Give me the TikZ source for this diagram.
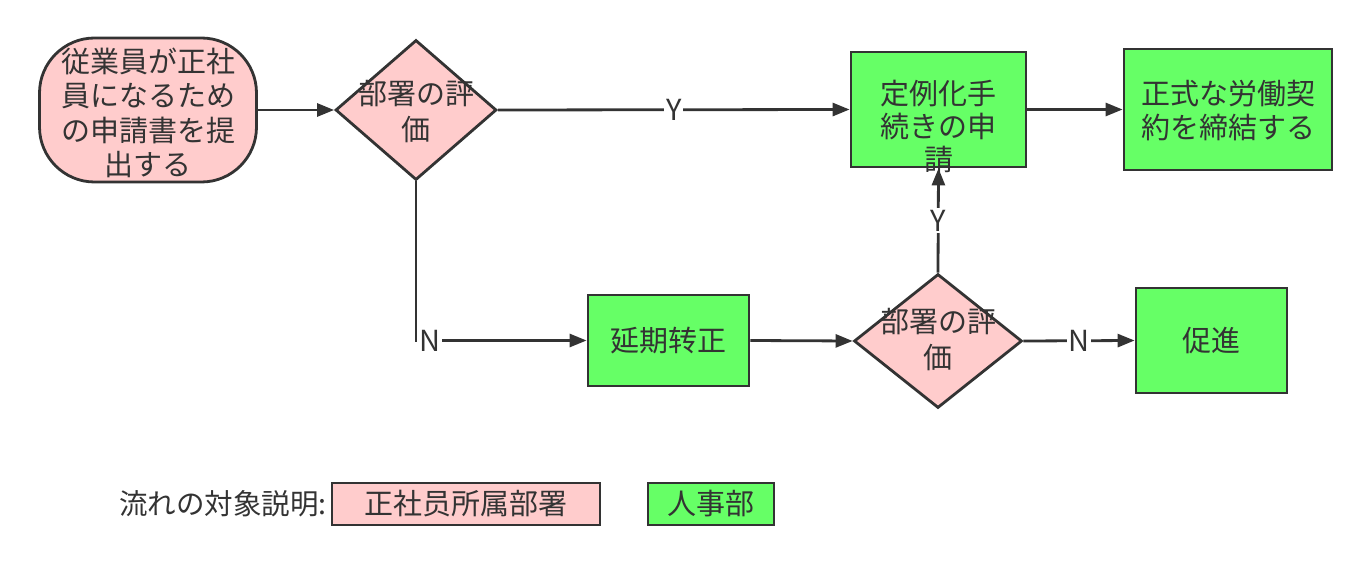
\documentclass[tikz,border=0pt]{standalone}
\usepackage{fontspec}
\setmainfont{Noto Sans CJK JP}
\usetikzlibrary{shapes.geometric,arrows.meta}
\definecolor{pinkfill}{HTML}{FFCCCC}
\definecolor{greenfill}{HTML}{66FF66}
\definecolor{strokec}{HTML}{333333}
\tikzset{
  base/.style={draw=strokec, line width=2.8pt, text=strokec, font=\fontsize{29}{34.5}\selectfont, align=center, inner sep=0pt},
  startbox/.style={base, fill=pinkfill, rectangle, rounded corners=55pt},
  procbox/.style={base, fill=greenfill, rectangle},
  decision/.style={base, fill=pinkfill, diamond, minimum width=161pt, minimum height=140pt},
  conn/.style={draw=strokec, line width=2.8pt, -{Triangle[length=17pt,width=13pt]}},
  lbl/.style={fill=white, text=strokec, font=\fontsize{29}{30}\selectfont, inner sep=2pt},
  legendtext/.style={text=strokec, font=\fontsize{28.5}{30}\selectfont, inner sep=0pt},
  inner/.style={text=strokec, align=center, inner sep=0pt},
}
\begin{document}
\begin{tikzpicture}[x=1pt,y=-1pt]
\useasboundingbox (0,0) rectangle (1369,580);
\fill[white] (0,0) rectangle (1369,580);

\node[startbox, minimum width=217pt, minimum height=144pt] (start) at (148,110) {};
\node[inner, font=\fontsize{29}{34.5}\selectfont] (starttxt) at (148,113) {従業員が正社\\員になるため\\の申請書を提\\出する};

\node[decision] (d1) at (416,110) {};
\node[inner, font=\fontsize{29}{36}\selectfont] (d1txt) at (416,112) {部署の評\\価};

\node[procbox, minimum width=175pt, minimum height=115pt] (apply) at (938.5,109.5) {};
\node[inner, font=\fontsize{29}{33}\selectfont] (applytxt) at (938.5,126) {定例化手\\続きの申\\請};

\node[procbox, minimum width=208pt, minimum height=121pt] (contract) at (1228,109.5) {};
\node[inner, font=\fontsize{29}{34}\selectfont] (contracttxt) at (1228,111) {正式な労働契\\約を締結する};

\node[procbox, minimum width=161pt, minimum height=91pt] (delay) at (668.5,340.5) {延期转正};

\node[decision, minimum width=168pt, minimum height=134pt] (d2) at (938,341) {};
\node[inner, font=\fontsize{29}{36}\selectfont] (d2txt) at (938,340) {部署の評\\価};

\node[procbox, minimum width=151pt, minimum height=105pt] (promo) at (1211.5,340.5) {促進};

\draw[conn] (start.east) -- (d1.west);
\draw[conn] (d1.east) -- node[lbl] {Y} (apply.west);
\draw[conn] (d1.south) |- node[lbl, pos=0.5, anchor=west, xshift=0pt] {N} (delay.west);
\draw[conn] (delay.east) -- (d2.west);
\draw[conn] (d2.north) -- node[lbl] {Y} (apply.south);
\draw[conn] (d2.east) -- node[lbl] {N} (promo.west);
\draw[conn] (apply.east) -- (contract.west);

\node[legendtext, anchor=east] (legtitle) at (327,504) {流れの対象説明:};
\node[base, fill=pinkfill, minimum width=268pt, minimum height=42pt] (leg1) at (466,504) {正社员所属部署};
\node[base, fill=greenfill, minimum width=126pt, minimum height=42pt] (leg2) at (711,504) {人事部};
\end{tikzpicture}
\end{document}
